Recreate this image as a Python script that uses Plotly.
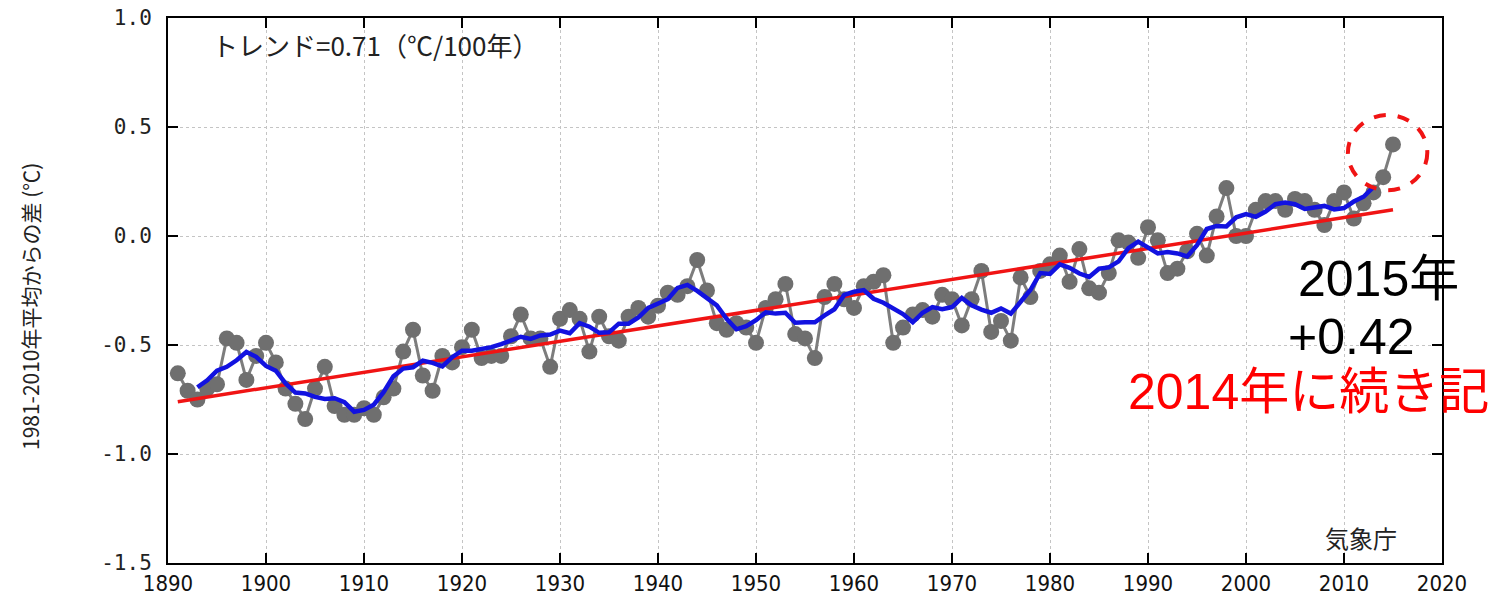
import plotly.graph_objects as go
import pandas as pd

# ---- data ----
years = list(range(1891, 2016))
anomaly = [
    -0.63, -0.71, -0.75, -0.70, -0.68, -0.47, -0.49, -0.66, -0.55, -0.49,   # 1891-1900
    -0.58, -0.70, -0.77, -0.84, -0.70, -0.60, -0.78, -0.82, -0.82, -0.79,   # 1901-1910
    -0.82, -0.74, -0.70, -0.53, -0.43, -0.64, -0.71, -0.55, -0.58, -0.51,   # 1911-1920
    -0.43, -0.56, -0.55, -0.55, -0.46, -0.36, -0.47, -0.47, -0.60, -0.38,   # 1921-1930
    -0.34, -0.38, -0.53, -0.37, -0.46, -0.48, -0.37, -0.33, -0.37, -0.32,   # 1931-1940
    -0.26, -0.27, -0.23, -0.11, -0.25, -0.40, -0.43, -0.40, -0.42, -0.49,   # 1941-1950
    -0.33, -0.29, -0.22, -0.45, -0.47, -0.56, -0.28, -0.22, -0.29, -0.33,   # 1951-1960
    -0.23, -0.21, -0.18, -0.49, -0.42, -0.36, -0.34, -0.37, -0.27, -0.29,   # 1961-1970
    -0.41, -0.29, -0.16, -0.44, -0.39, -0.48, -0.19, -0.28, -0.16, -0.13,   # 1971-1980
    -0.09, -0.21, -0.06, -0.24, -0.26, -0.17, -0.02, -0.03, -0.10, 0.04,    # 1981-1990
    -0.02, -0.17, -0.15, -0.07, 0.01, -0.09, 0.09, 0.22, 0.00, 0.00,        # 1991-2000
    0.12, 0.16, 0.16, 0.12, 0.17, 0.16, 0.12, 0.05, 0.16, 0.20,             # 2001-2010
    0.08, 0.15, 0.20, 0.27, 0.42,                                           # 2011-2015
]
# 5-year running mean (blue line) of the annual series, as in the chart
running_mean = pd.Series(anomaly).rolling(5, center=True).mean().tolist()

trend_years = [1891, 2015]
trend_values = [-0.76, 0.12]

x_ticks = list(range(1890, 2021, 10))
y_ticks = [1.0, 0.5, 0.0, -0.5, -1.0, -1.5]
y_tick_labels = ["1.0", "0.5", "0.0", "-0.5", "-1.0", "-1.5"]

# ---- figure geometry helpers (pixels -> paper) ----
W, H = 1490, 598
L, R, T, B = 168, 48, 18, 35
PW, PH = W - L - R, H - T - B


def px(xp):
    return (xp - L) / PW


def py(yp):
    return (H - B - yp) / PH


fig = go.Figure()

fig.add_trace(go.Scatter(
    x=years, y=anomaly, mode="lines+markers",
    line=dict(color="#7d7d7d", width=3),
    marker=dict(color="#6f6f6f", size=16, line=dict(width=0)),
    hoverinfo="x+y", showlegend=False,
))
fig.add_trace(go.Scatter(
    x=trend_years, y=trend_values, mode="lines",
    line=dict(color="#f01414", width=3.5), showlegend=False,
))
fig.add_trace(go.Scatter(
    x=years, y=running_mean, mode="lines",
    line=dict(color="#1212e0", width=4.5), showlegend=False,
))

tick_font = dict(family="DejaVu Sans Mono, monospace", size=21, color="#222")
xtick_font = dict(family="Liberation Sans Narrow, DejaVu Sans Condensed, DejaVu Sans Mono", size=22, color="#111")

fig.update_layout(
    width=W, height=H,
    margin=dict(l=L, r=R, t=T, b=B, autoexpand=False),
    paper_bgcolor="white", plot_bgcolor="white",
    xaxis=dict(
        range=[1890, 2020], tickmode="array", tickvals=x_ticks,
        ticks="inside", ticklen=10, tickwidth=1.5, tickcolor="black",
        showline=True, linecolor="black", linewidth=2, mirror="ticks",
        showgrid=True, gridcolor="#c4c4c4", gridwidth=1, griddash="dot",
        zeroline=False, tickfont=xtick_font, automargin=False,
    ),
    yaxis=dict(
        range=[-1.5, 1.0], tickmode="array", tickvals=y_ticks, ticktext=y_tick_labels,
        ticks="inside", ticklen=10, tickwidth=1.5, tickcolor="black",
        showline=True, linecolor="black", linewidth=2, mirror="ticks",
        showgrid=True, gridcolor="#c4c4c4", gridwidth=1, griddash="dot",
        zeroline=False, tickfont=tick_font, automargin=False,
        ticklabelstandoff=10,
    ),
    font=dict(family="Noto Sans CJK JP, DejaVu Sans", color="black"),
)

# red dashed circle around 2015
fig.add_shape(type="circle", xref="x", yref="y",
              x0=2010.4, x1=2018.5, y0=0.21, y1=0.555,
              line=dict(color="#f01414", width=4, dash="dash"))

cjk = "Noto Sans CJK JP, DejaVu Sans"
arial = "Liberation Sans, Noto Sans CJK JP"

fig.add_annotation(text="1981-2010年平均からの差 (℃)", xref="paper", yref="paper",
                   x=px(30), y=py(307), xanchor="center", yanchor="middle",
                   textangle=-90, showarrow=False,
                   font=dict(family=cjk, size=21, color="#222"))
fig.add_annotation(text="トレンド=0.71（℃/100年）", xref="paper", yref="paper",
                   x=px(210), y=py(44), xanchor="left", yanchor="middle", showarrow=False,
                   font=dict(family=cjk, size=26, color="#222"))
fig.add_annotation(text="気象庁", xref="paper", yref="paper",
                   x=px(1361), y=py(537), xanchor="center", yanchor="middle", showarrow=False,
                   font=dict(family=cjk, size=24, color="#222"))
fig.add_annotation(text="2015年", xref="paper", yref="paper",
                   x=px(1296), y=py(279), xanchor="left", yanchor="middle", showarrow=False,
                   font=dict(family=arial, size=50, color="black"))
fig.add_annotation(text="+0.42", xref="paper", yref="paper",
                   x=px(1286), y=py(337), xanchor="left", yanchor="middle", showarrow=False,
                   font=dict(family=arial, size=50, color="black"))
fig.add_annotation(text="2014年に続き記録更新", xref="paper", yref="paper",
                   x=px(1126), y=py(392), xanchor="left", yanchor="middle", showarrow=False,
                   font=dict(family=arial, size=50, color="#ff0000"))

fig.write_html("out.html", post_script="document.body.style.margin='0';",
               config={"displayModeBar": False})
